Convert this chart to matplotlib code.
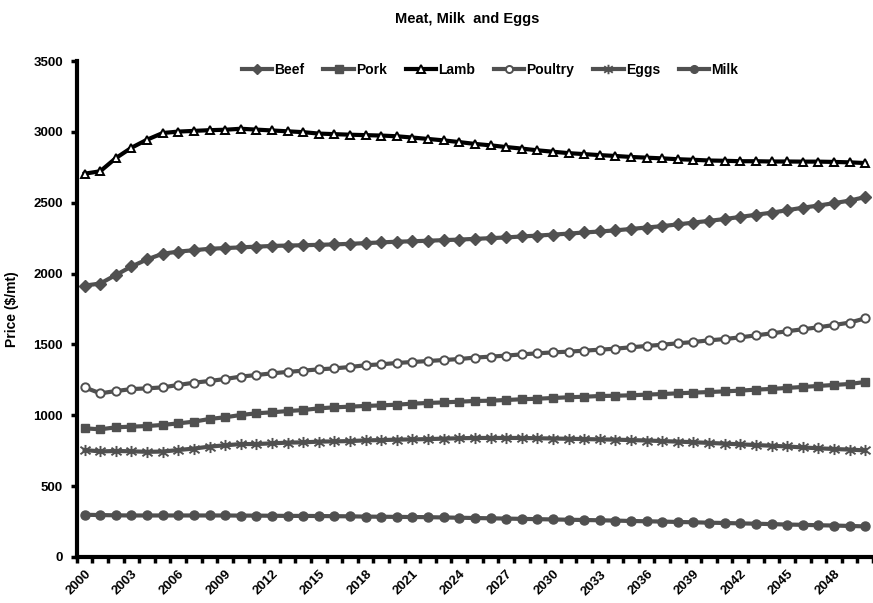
import matplotlib
matplotlib.use("Agg")
import matplotlib.pyplot as plt
from matplotlib.path import Path

plt.rcParams['font.family'] = ['Liberation Sans', 'DejaVu Sans']

years = list(range(2000, 2051))

beef = [1915, 1930, 1990, 2050, 2100, 2140, 2155, 2165, 2175, 2180,
        2185, 2190, 2195, 2198, 2200, 2203, 2206, 2210, 2215, 2220,
        2225, 2228, 2232, 2236, 2240, 2245, 2250, 2255, 2262, 2268,
        2275, 2282, 2290, 2297, 2305, 2315, 2325, 2335, 2347, 2360,
        2372, 2385, 2400, 2415, 2430, 2447, 2465, 2480, 2497, 2515,
        2540]

pork = [908, 901, 915, 920, 924, 932, 943, 955, 974, 986,
        1002, 1014, 1021, 1030, 1037, 1049, 1056, 1061, 1066, 1070,
        1075, 1082, 1087, 1091, 1096, 1101, 1103, 1108, 1113, 1117,
        1122, 1127, 1131, 1136, 1138, 1141, 1146, 1150, 1155, 1160,
        1164, 1169, 1174, 1181, 1186, 1193, 1200, 1207, 1214, 1221,
        1235]

lamb = [2705, 2722, 2815, 2888, 2945, 2992, 3002, 3007, 3012, 3015,
        3022, 3016, 3010, 3004, 2998, 2988, 2984, 2980, 2977, 2974,
        2969, 2960, 2950, 2940, 2928, 2915, 2905, 2893, 2882, 2870,
        2860, 2850, 2843, 2836, 2830, 2823, 2818, 2813, 2807, 2803,
        2798, 2796, 2793, 2793, 2791, 2791, 2790, 2790, 2788, 2785,
        2780]

poultry = [1197, 1155, 1171, 1185, 1190, 1197, 1214, 1230, 1242, 1256,
           1273, 1284, 1296, 1306, 1315, 1324, 1331, 1341, 1353, 1360,
           1369, 1376, 1383, 1390, 1397, 1407, 1414, 1421, 1430, 1437,
           1444, 1449, 1456, 1463, 1470, 1480, 1489, 1498, 1508, 1517,
           1529, 1538, 1550, 1564, 1578, 1593, 1607, 1621, 1637, 1654,
           1684]

eggs = [755, 745, 748, 746, 742, 744, 755, 765, 779, 788,
        797, 797, 802, 807, 809, 814, 816, 818, 823, 825,
        828, 830, 832, 835, 838, 840, 840, 840, 840, 838,
        836, 834, 832, 830, 828, 825, 822, 818, 814, 810,
        805, 800, 795, 790, 785, 780, 773, 767, 762, 758,
        752]

milk = [298, 296, 294, 293, 293, 293, 293, 293, 293, 293,
        292, 292, 291, 290, 290, 289, 288, 287, 285, 284,
        283, 282, 281, 279, 277, 275, 273, 271, 269, 267,
        265, 263, 261, 259, 257, 254, 252, 250, 247, 245,
        242, 240, 237, 235, 232, 229, 227, 224, 222, 219,
        216]

y_ticks = [0, 500, 1000, 1500, 2000, 2500, 3000, 3500]

GRAY = '#505050'

# six-armed asterisk marker
star = Path([(-1, -0.75), (1, 0.75), (-1, 0.75), (1, -0.75), (0, -1.1), (0, 1.1)],
            [Path.MOVETO, Path.LINETO, Path.MOVETO, Path.LINETO, Path.MOVETO, Path.LINETO])

fig = plt.figure(figsize=(8.73, 6.03), dpi=100)
ax = fig.add_axes([0.088, 0.0763, 0.912, 0.8225])

x = list(range(len(years)))
lw = 3.0

ax.plot(x, beef, color=GRAY, lw=lw, marker='D', ms=6, mfc=GRAY, mec=GRAY, label='Beef')
ax.plot(x, pork, color=GRAY, lw=lw, marker='s', ms=6, mfc=GRAY, mec=GRAY, label='Pork')
ax.plot(x, lamb, color='black', lw=lw, marker='^', ms=6, mfc='white', mec='black', mew=1.4, label='Lamb')
ax.plot(x, poultry, color=GRAY, lw=lw, marker='o', ms=6, mfc='white', mec=GRAY, mew=1.4, label='Poultry')
ax.plot(x, eggs, color=GRAY, lw=lw, marker=star, ms=8, mfc=GRAY, mec=GRAY, mew=1.4, label='Eggs')
ax.plot(x, milk, color=GRAY, lw=lw, marker='o', ms=6.5, mfc=GRAY, mec=GRAY, label='Milk')

ax.set_xlim(-0.5, len(years) - 0.5)
ax.set_ylim(0, 3500)
ax.set_yticks(y_ticks)
ax.set_yticklabels([str(v) for v in y_ticks], fontsize=9.5, fontweight='bold')

# tick marks at category boundaries, labels every third year
ax.set_xticks([i - 0.5 for i in range(len(years) + 1)])
ax.set_xticklabels([])
ax.tick_params(axis='x', which='major', length=4, width=2.5, direction='out')
ax.set_xticks(x[::3], minor=True)
ax.set_xticklabels([str(y) for y in years[::3]], minor=True, rotation=45,
                   ha='right', va='top', rotation_mode='anchor',
                   fontsize=9.5, fontweight='bold')
ax.tick_params(axis='x', which='minor', length=0, pad=8)
ax.tick_params(axis='y', length=4, width=2.5, direction='out', pad=6)

for s in ['top', 'right']:
    ax.spines[s].set_visible(False)
for s in ['left', 'bottom']:
    ax.spines[s].set_linewidth(3)
    ax.spines[s].set_color('black')

ax.set_ylabel('Price ($/mt)', fontsize=10, fontweight='bold', labelpad=10)

fig.suptitle('Meat, Milk  and Eggs', x=0.535, y=0.98, fontsize=10.5, fontweight='bold')

leg = ax.legend(loc='upper center', bbox_to_anchor=(0.519, 1.008), ncol=6, frameon=False,
                prop={'weight': 'bold', 'size': 10}, handlelength=2.2,
                handletextpad=0.15, columnspacing=1.35, borderaxespad=0.0,
                markerscale=0.85)

fig.savefig('out.png', dpi=100, facecolor='white')
